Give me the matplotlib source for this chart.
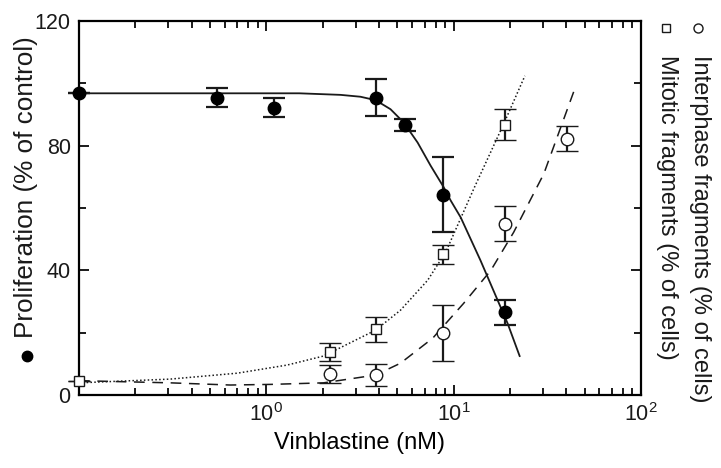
import numpy as np
import matplotlib
matplotlib.use("Agg")
import matplotlib.pyplot as plt
from matplotlib.lines import Line2D
from matplotlib.ticker import LogLocator, FixedLocator, NullFormatter

plt.rcParams.update({
    'font.family': ['Liberation Sans', 'DejaVu Sans'],
    'mathtext.fontset': 'custom',
    'mathtext.rm': 'Liberation Sans',
    'text.color': '#1a1a1a',
})

# measured points (vinblastine nM, % values, +/- error)
prolif_x = [0.1, 0.547, 1.10, 3.83, 5.47, 8.73, 18.7]
prolif_y = [96.8, 95.4, 92.2, 95.4, 86.7, 64.3, 26.6]
prolif_err = [0, 3, 3, 6, 2, 12, 4]

mitotic_x = [0.1, 2.2, 3.83, 8.73, 18.7]
mitotic_y = [4.6, 13.8, 21.1, 45.1, 86.7]
mitotic_err = [0, 3, 4, 3, 5]

interphase_x = [2.2, 3.83, 8.73, 18.7, 40.2]
interphase_y = [6.7, 6.4, 19.8, 55.0, 82.2]
interphase_err = [3, 3.5, 9, 5.5, 4]

# fitted curves
fit_prolif_x = [0.1, 1.5, 2.49, 3.18, 3.83, 4.60, 5.40, 6.42, 7.53, 8.84, 9.64, 10.9, 13.9, 19.4, 22.5]
fit_prolif_y = [96.8, 96.8, 96.3, 95.7, 94.6, 91.7, 87.5, 81.0, 73.6, 66.7, 62.4, 57.0, 43.2, 23.0, 12.5]

fit_mitotic_x = [0.1, 0.307, 0.70, 1.29, 2.02, 3.83, 5.2, 7.26, 9.06, 12.9, 18.5, 24.0]
fit_mitotic_y = [3.9, 5.1, 7.0, 9.6, 12.5, 20.8, 27.2, 36.8, 45.8, 66.6, 87.0, 102.4]

fit_inter_x = [0.1, 0.307, 0.642, 1.05, 2.02, 3.83, 5.2, 7.72, 11.3, 15.8, 20.9, 30.3, 44.9]
fit_inter_y = [4.6, 3.9, 3.2, 3.4, 3.9, 6.4, 10.2, 18.2, 29.4, 40.0, 52.2, 71.0, 99.2]

fig = plt.figure(figsize=(7.21, 4.68), dpi=100)
ax = fig.add_axes([79/721, 73/468, 562/721, 374/468])

ax.plot(fit_prolif_x, fit_prolif_y, color='#1a1a1a', lw=1.3, clip_on=False)
ax.plot(fit_mitotic_x, fit_mitotic_y, color='#1a1a1a', lw=1.1, linestyle=(0, (1, 1.5)), clip_on=False)
ax.plot(fit_inter_x, fit_inter_y, color='#1a1a1a', lw=1.1, linestyle=(0, (7, 5)), clip_on=False)

eb = dict(ecolor='#1a1a1a', elinewidth=1.6, capsize=8, capthick=1.6, linestyle='none',
          clip_on=False, zorder=3)
ax.errorbar(mitotic_x, mitotic_y, yerr=mitotic_err, fmt='s', ms=7, mfc='white',
            mec='#1a1a1a', mew=1.0, **eb)
ax.errorbar(interphase_x, interphase_y, yerr=interphase_err, fmt='o', ms=9, mfc='white',
            mec='#1a1a1a', mew=1.0, **eb)
ax.errorbar(prolif_x, prolif_y, yerr=prolif_err, fmt='o', ms=9, mfc='black',
            mec='black', **eb)

ax.set_xscale('log')
ax.set_xlim(0.1, 100)
ax.set_ylim(0, 120)
ax.xaxis.set_major_locator(FixedLocator([1, 10, 100]))
ax.xaxis.set_minor_locator(LogLocator(base=10, subs=np.arange(2, 10), numticks=20))
ax.xaxis.set_minor_formatter(NullFormatter())
ax.set_yticks([0, 40, 80, 120])
ax.set_yticks([20, 60, 100], minor=True)

for s in ax.spines.values():
    s.set_linewidth(1.6)
ax.tick_params(which='both', direction='in', top=True, right=True, width=1.4,
               labelsize=15.5, colors='#1a1a1a', pad=6)
ax.tick_params(which='major', length=7.5)
ax.tick_params(which='minor', length=5)

ax.set_xlabel('Vinblastine (nM)', fontsize=17, labelpad=4)

# left label with its marker
fig.text(26/721, 1 - 338/468, 'Proliferation (% of control)', rotation=90,
         ha='center', va='bottom', fontsize=18.8)
# right labels with markers
fig.text(667/721, 1 - 55/468, 'Mitotic fragments (% of cells)', rotation=-90,
         ha='center', va='top', fontsize=17)
fig.text(700/721, 1 - 55/468, 'Interphase fragments (% of cells)', rotation=-90,
         ha='center', va='top', fontsize=17)

fig.add_artist(Line2D([27/721], [1 - 356/468], marker='o', ms=7.5, mfc='black',
                      mec='black', transform=fig.transFigure))
fig.add_artist(Line2D([666/721], [1 - 28/468], marker='s', ms=6, mfc='white',
                      mec='#1a1a1a', mew=1.0, transform=fig.transFigure))
fig.add_artist(Line2D([698/721], [1 - 28/468], marker='o', ms=6.5, mfc='white',
                      mec='#1a1a1a', mew=1.0, transform=fig.transFigure))

fig.savefig('out.png', dpi=100)
